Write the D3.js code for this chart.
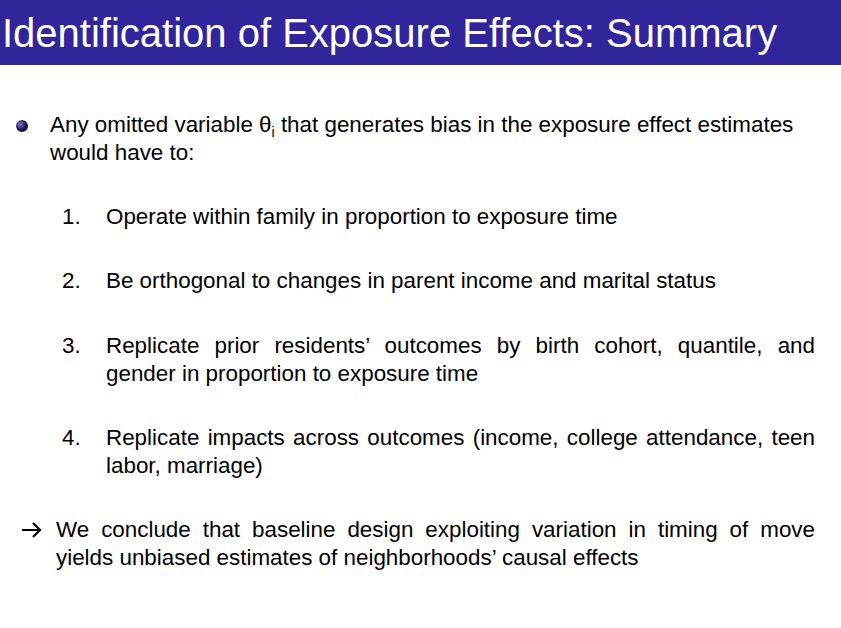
<!DOCTYPE html>
<html><head><meta charset="utf-8">
<script src="https://cdn.jsdelivr.net/npm/d3@7"></script>
<style>body{margin:0;background:#fff}</style>
</head><body>
<script>
var title = 'Identification of Exposure Effects: Summary'
var intro = [['Any omitted variable \u03b8', 'i', ' that generates bias in the exposure effect estimates'], ['would have to:']]
var items = [
  ['Operate within family in proportion to exposure time'],
  ['Be orthogonal to changes in parent income and marital status'],
  ['Replicate prior residents\u2019 outcomes by birth cohort, quantile, and', 'gender in proportion to exposure time'],
  ['Replicate impacts across outcomes (income, college attendance, teen', 'labor, marriage)']
]
var conclusion = ['We conclude that baseline design exploiting variation in timing of move', 'yields unbiased estimates of neighborhoods\u2019 causal effects']
var itemTop = [224, 288, 353, 445]

var W = 841, H = 628, lineH = 28, right = 815, fs = 22.4
var svg = d3.select('body').append('svg').attr('width', W).attr('height', H)
  .style('font-family', 'Liberation Sans, Arial, sans-serif')

svg.append('rect').attr('width', W).attr('height', 65).attr('fill', '#31259b')
svg.append('text').attr('x', 2).attr('y', 47).attr('font-size', 40).attr('fill', '#fff').text(title)

var grad = svg.append('defs').append('radialGradient').attr('id', 'ball').attr('cx', '35%').attr('cy', '35%')
grad.append('stop').attr('offset', '0%').attr('stop-color', '#7a7ac0')
grad.append('stop').attr('offset', '100%').attr('stop-color', '#12124a')
svg.append('circle').attr('cx', 22).attr('cy', 126).attr('r', 6).attr('fill', 'url(#ball)')

var t0 = svg.append('text').attr('x', 50).attr('y', 132).attr('font-size', fs)
t0.append('tspan').text(intro[0][0])
t0.append('tspan').attr('font-size', 14).attr('dy', 5).text(intro[0][1])
t0.append('tspan').attr('dy', -5).text(intro[0][2])
svg.append('text').attr('x', 50).attr('y', 160).attr('font-size', fs).text(intro[1][0])

function justify (sel, x) {
  var w = sel.node().getComputedTextLength()
  var n = (sel.text().match(/ /g) || []).length
  if (n && w < right - x) sel.attr('word-spacing', (right - x - w) / n)
}

items.forEach(function (lines, i) {
  svg.append('text').attr('x', 62).attr('y', itemTop[i]).attr('font-size', fs).text((i + 1) + '.')
  lines.forEach(function (l, j) {
    var t = svg.append('text').attr('x', 106).attr('y', itemTop[i] + j * lineH).attr('font-size', fs).text(l)
    if (j < lines.length - 1) justify(t, 106)
  })
})

svg.append('path').attr('d', 'M22,530 H40 M33,523 L40,530 L33,537')
  .attr('stroke', '#000').attr('stroke-width', 2.2).attr('fill', 'none')
conclusion.forEach(function (l, j) {
  var t = svg.append('text').attr('x', 56).attr('y', 537 + j * lineH).attr('font-size', fs).text(l)
  if (j < conclusion.length - 1) justify(t, 56)
})
</script>
</body></html>
